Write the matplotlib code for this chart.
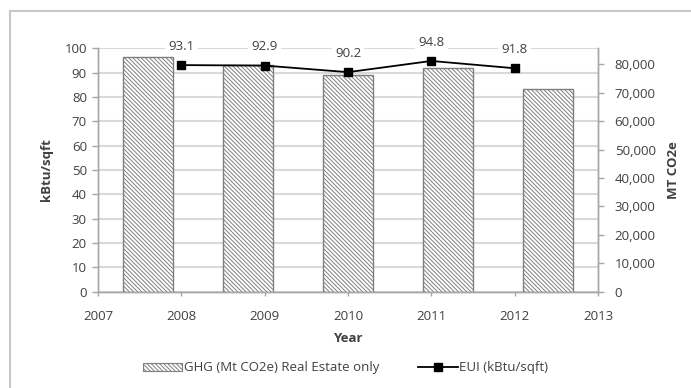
import matplotlib
matplotlib.use("Agg")
import matplotlib.pyplot as plt
from matplotlib.patches import Rectangle
from matplotlib.lines import Line2D

years = [2008, 2009, 2010, 2011, 2012]
ghg = [82800, 79800, 76300, 78700, 71300]
eui = [93.1, 92.9, 90.2, 94.8, 91.8]
eui_labels = ["93.1", "92.9", "90.2", "94.8", "91.8"]
left_ticks = list(range(0, 101, 10))
right_ticks = list(range(0, 80001, 10000))
x_ticks = list(range(2007, 2014))

plt.rcParams['font.family'] = ['Open Sans', 'DejaVu Sans']
plt.rcParams['hatch.linewidth'] = 0.7
tc = '#404040'
grid_c = '#d9d9d9'
spine_c = '#a6a6a6'
fs = 9.5
hatch = '\\' * 8

W, H = 691, 388
fig = plt.figure(figsize=(W / 100, H / 100), dpi=100)
rect = [98 / W, 1 - 291.7 / H, 500 / W, (291.7 - 48.3) / H]
ax = fig.add_axes(rect)          # grid + left axis
ax2 = ax.twinx()                 # bars + right axis
ax3 = ax.twinx()                 # line (shares left scale)

xmin, xmax = 2007, 2013
ax.set_xlim(xmin, xmax)
ax.set_ylim(0, 100)
ax3.set_ylim(0, 100)
ax2.set_ylim(0, 85700)

# bars positioned as categories across the full plot width
n = len(ghg)
step = (xmax - xmin) / n
bar_x = [xmin + (i + 0.5) * step for i in range(n)]
ax2.bar(bar_x, ghg, width=step * 0.5, color='white', edgecolor='#7f7f7f',
        hatch=hatch, linewidth=1.0, zorder=2)

ax.set_yticks(left_ticks)
ax.yaxis.grid(True, color=grid_c, linewidth=1.5, zorder=0)
ax.set_axisbelow(True)

ax3.plot(years, eui, color='black', linewidth=1.3, marker='s', markersize=6,
         zorder=5, clip_on=False)
for xv, yv, lab in zip(years, eui, eui_labels):
    ax3.annotate(lab, (xv, yv), xytext=(0, 13.5), textcoords='offset points',
                 ha='center', va='center', fontsize=fs, color=tc,
                 bbox=dict(boxstyle='square,pad=0.25', fc='white', ec='none'),
                 zorder=6)
ax3.axis('off')

ax.set_xticks(x_ticks)
ax.set_xticklabels([str(v) for v in x_ticks])
ax2.set_yticks(right_ticks)
ax2.set_yticklabels([f"{v:,}" for v in right_ticks])

for a in (ax, ax2):
    a.spines['top'].set_visible(False)
    for s in ('left', 'right', 'bottom'):
        a.spines[s].set_color(spine_c)
        a.spines[s].set_linewidth(1.0)
    a.tick_params(colors=spine_c, labelcolor=tc, labelsize=fs, length=4,
                  width=1.0)
ax.tick_params(axis='x', length=3, pad=10)
ax.tick_params(axis='y', pad=4)
ax2.tick_params(axis='y', pad=8)

ax.set_xlabel('Year', fontsize=fs, fontweight='bold', color=tc, labelpad=7)
ax.set_ylabel('kBtu/sqft', fontsize=fs, fontweight='bold', color=tc,
              labelpad=8)
ax2.set_ylabel('MT CO2e', fontsize=fs, fontweight='bold', color=tc,
               labelpad=8)

# legend
h1 = Rectangle((0, 0), 1, 1, facecolor='white', edgecolor='#7f7f7f',
               hatch=hatch, linewidth=0.8)
h2 = Line2D([], [], color='black', linewidth=1.3, marker='s', markersize=6)
leg = fig.legend([h1, h2], ['GHG (Mt CO2e) Real Estate only', 'EUI (kBtu/sqft)'],
                 loc='center', bbox_to_anchor=(0.5, 1 - 368 / H), ncol=2,
                 frameon=False, fontsize=fs, handlelength=3.0,
                 handleheight=0.5, handletextpad=0.1, columnspacing=3.0)
for t in leg.get_texts():
    t.set_color(tc)

# outer chart border
fig.add_artist(Rectangle((10 / W, -0.1), 1.2, 1.1 - 11 / H,
                         transform=fig.transFigure, fill=False,
                         edgecolor='#c8c8c8', linewidth=1.5))

fig.savefig('out.png', dpi=100, facecolor='white')
